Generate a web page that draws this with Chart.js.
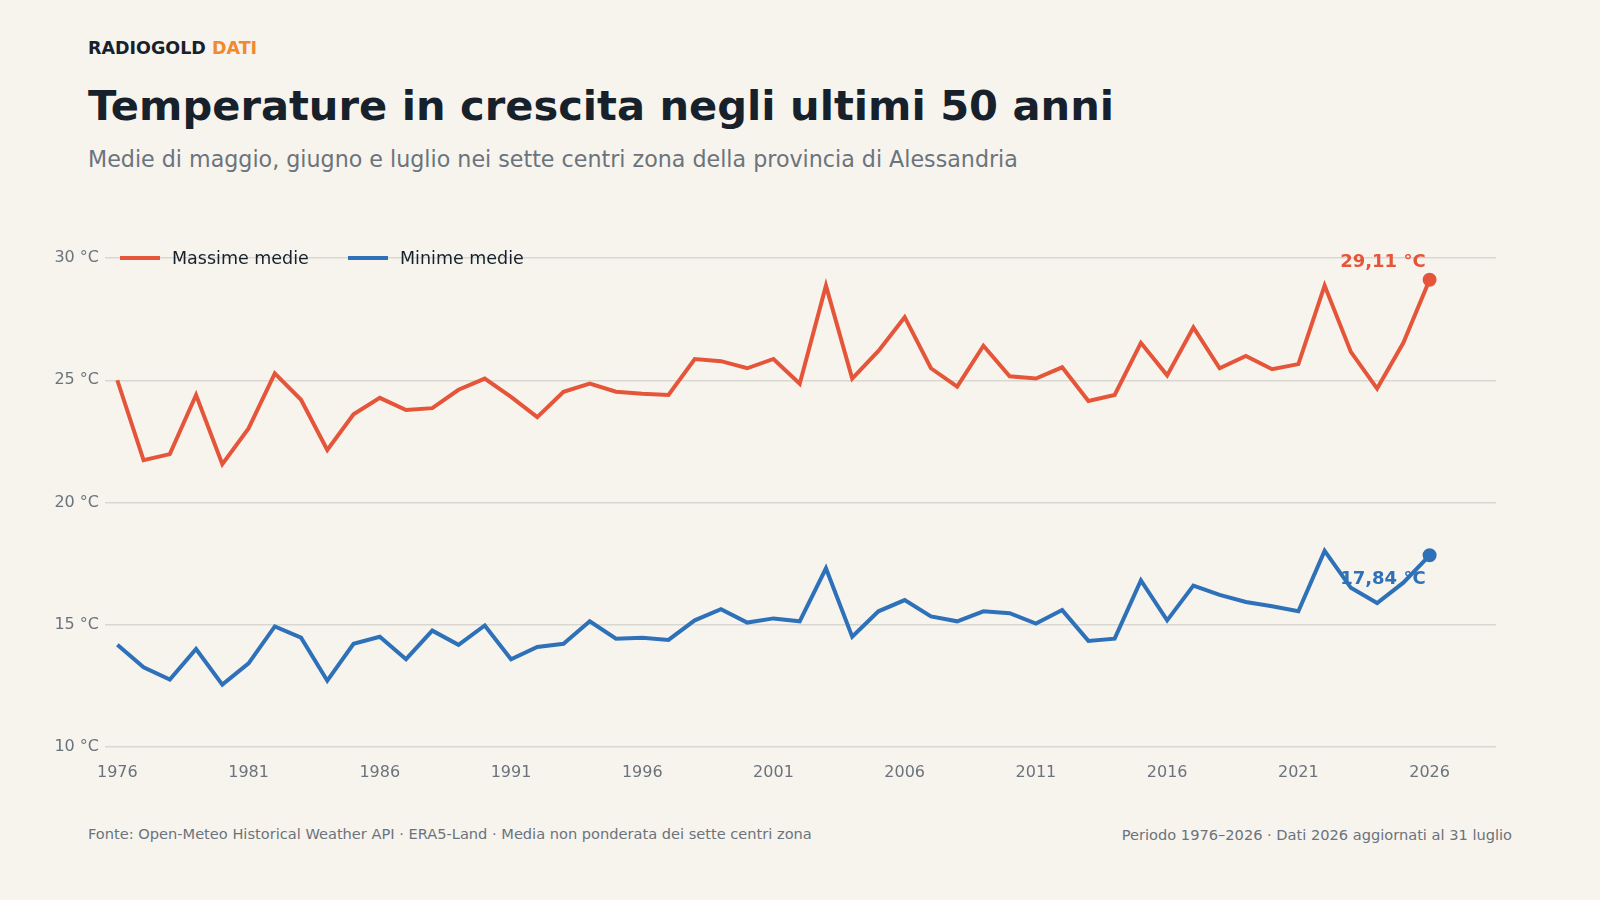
<!DOCTYPE html>
<html><head><meta charset="utf-8">
<script src="https://cdn.jsdelivr.net/npm/chart.js@4"></script>
<style>
body{margin:0;background:#f7f4ee;width:1600px;height:900px;overflow:hidden;font-family:"DejaVu Sans",sans-serif;position:relative}
.t{position:absolute;left:88px;white-space:nowrap}
#wrap{position:absolute;left:0;top:200px;width:1600px;height:620px}
.lg{position:absolute;top:248px;font-size:17.5px;color:#16212c;display:flex;align-items:center}
.lg i{display:inline-block;width:40px;height:4px;margin-right:12px}
</style></head><body>
<div class="t" style="top:38px;font-size:17.5px;font-weight:700;color:#16212c">RADIOGOLD <span style="color:#f0892f">DATI</span></div>
<div class="t" style="top:81px;font-size:41.6px;font-weight:700;color:#16212c">Temperature in crescita negli ultimi 50 anni</div>
<div class="t" style="top:146px;font-size:22.2px;color:#6b737c">Medie di maggio, giugno e luglio nei sette centri zona della provincia di Alessandria</div>
<div id="wrap"><canvas id="c" width="1600" height="620"></canvas></div>
<div class="lg" style="left:120px"><i style="background:#e5553a"></i>Massime medie</div>
<div class="lg" style="left:348px"><i style="background:#2e71b8"></i>Minime medie</div>
<div class="t" style="top:825px;font-size:14.6px;color:#6b737c">Fonte: Open-Meteo Historical Weather API · ERA5-Land · Media non ponderata dei sette centri zona</div>
<div class="t" style="top:826px;left:auto;right:88px;font-size:14.6px;color:#6b737c">Periodo 1976–2026 · Dati 2026 aggiornati al 31 luglio</div>
<script>
const years=[];for(let y=1976;y<=2026;y++)years.push(y);
const maxVals=[25.0,21.73,21.98,24.40,21.57,23.03,25.28,24.2,22.15,23.61,24.28,23.78,23.86,24.61,25.07,24.32,23.49,24.53,24.86,24.53,24.45,24.4,25.87,25.78,25.49,25.87,24.86,28.87,25.07,26.2,27.58,25.49,24.74,26.41,25.16,25.07,25.53,24.15,24.4,26.53,25.2,27.16,25.49,25.99,25.45,25.66,28.87,26.16,24.66,26.53,29.11];
const minVals=[14.18,13.26,12.76,14.01,12.55,13.42,14.93,14.47,12.71,14.22,14.51,13.59,14.76,14.18,14.97,13.59,14.09,14.22,15.14,14.43,14.47,14.38,15.18,15.64,15.09,15.26,15.14,17.31,14.51,15.55,16.01,15.34,15.14,15.55,15.47,15.05,15.6,14.34,14.43,16.81,15.18,16.6,16.22,15.93,15.76,15.55,18.02,16.51,15.89,16.72,17.84];
const yTicks=[10,15,20,25,30];
const xTicks=[1976,1981,1986,1991,1996,2001,2006,2011,2016,2021,2026];
const RED='#e5553a',BLUE='#2e71b8';
const lastR=(arr)=>arr.map((v,i)=>i===arr.length-1?5:0);
const endLabels={id:'endLabels',afterDatasetsDraw(ch){
 const c=ch.ctx,xs=ch.scales.x,ys=ch.scales.y;
 c.save();c.font='700 18px "DejaVu Sans"';c.textAlign='right';
 const x=xs.getPixelForValue(2026)-4;
 c.fillStyle=RED;c.textBaseline='bottom';c.fillText(maxVals.at(-1).toFixed(2).replace('.',',')+' °C',x,ys.getPixelForValue(maxVals.at(-1))-8);
 c.fillStyle=BLUE;c.textBaseline='top';c.fillText(minVals.at(-1).toFixed(2).replace('.',',')+' °C',x,ys.getPixelForValue(minVals.at(-1))+15);
 c.restore();}};
new Chart(document.getElementById('c'),{type:'line',
data:{datasets:[
 {data:years.map((y,i)=>({x:y,y:maxVals[i]})),borderColor:RED,backgroundColor:RED,borderWidth:4,pointRadius:lastR(maxVals),tension:0},
 {data:years.map((y,i)=>({x:y,y:minVals[i]})),borderColor:BLUE,backgroundColor:BLUE,borderWidth:4,pointRadius:lastR(minVals),tension:0}]},
options:{responsive:false,animation:false,layout:{padding:{top:58,right:104,bottom:0,left:0}},
 plugins:{legend:{display:false},tooltip:{enabled:false}},
 scales:{
  x:{type:'linear',min:1975.53,max:2028.53,afterFit:s=>{s.height=73},afterBuildTicks:s=>{s.ticks=xTicks.map(v=>({value:v}))},
   grid:{display:false},border:{display:false},ticks:{padding:8,color:'#6b737c',font:{family:'DejaVu Sans',size:16},callback:v=>String(v)}},
  y:{min:10,max:30,afterFit:s=>{s.width=105},afterBuildTicks:s=>{s.ticks=yTicks.map(v=>({value:v}))},
   grid:{color:'#d9d7d2',lineWidth:1.5,drawTicks:false},border:{display:false},
   ticks:{padding:6,color:'#6b737c',font:{family:'DejaVu Sans',size:16},callback:v=>v+' °C'}}}},
plugins:[endLabels]});
</script></body></html>
